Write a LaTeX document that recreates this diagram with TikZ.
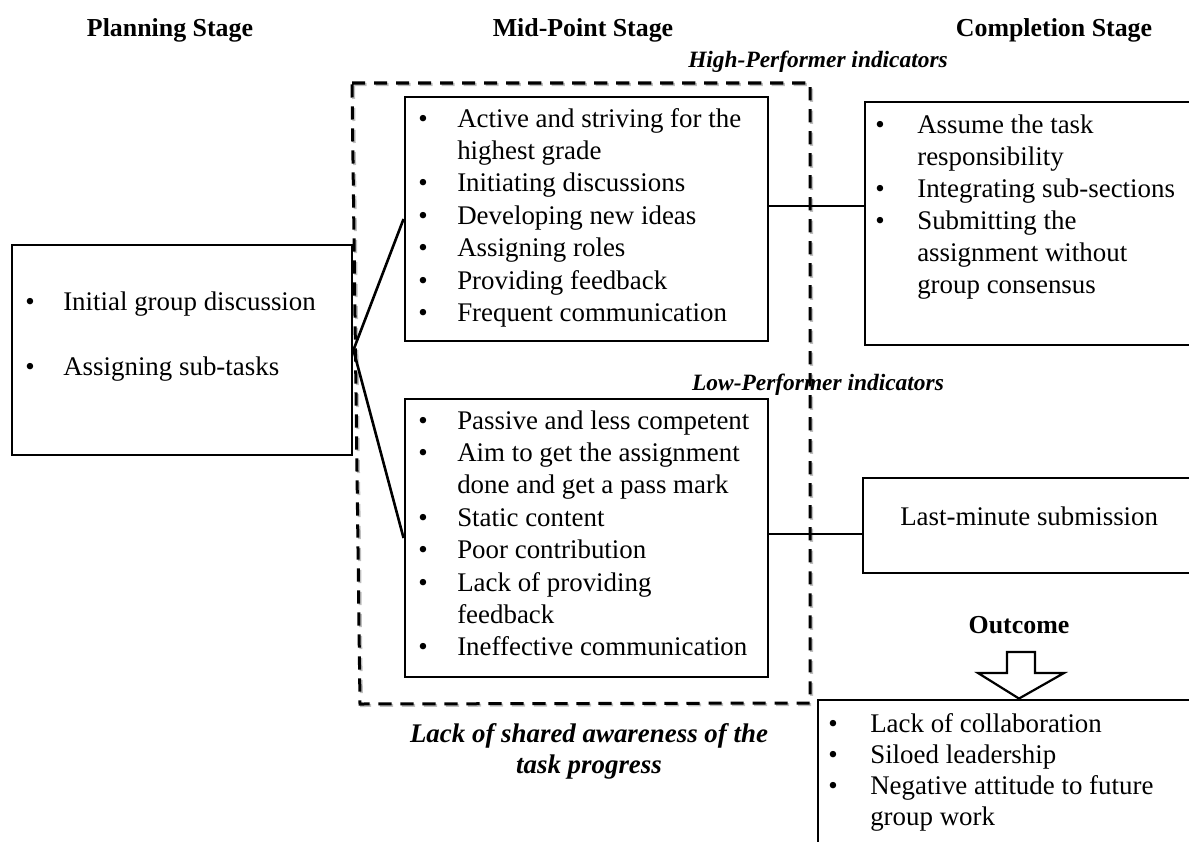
\documentclass[tikz,border=0pt]{standalone}
\usepackage{fontspec}
\setmainfont{Liberation Serif}
\usetikzlibrary{calc,fit}

\newcommand\bodysize{\fontsize{19.13pt}{22.96pt}\selectfont}
\newcommand\headsize{\fontsize{18.4pt}{22pt}\selectfont}
\newcommand\labelsize{\fontsize{16.65pt}{20pt}\selectfont}

\begin{document}
\begin{tikzpicture}[x=0.025cm,y=-0.025cm,
  box/.style={draw, line width=0.072cm, inner sep=0pt},
  link/.style={line width=0.065cm},
  line/.style={anchor=base west, inner sep=0pt, font=\bodysize},
  dot/.style={anchor=base, inner sep=0pt, font=\bodysize},
  stage/.style={anchor=base, inner sep=0pt, font=\headsize\bfseries},
  indic/.style={anchor=base, inner sep=0pt, font=\labelsize\bfseries\itshape},
  aware/.style={anchor=base, inner sep=0pt, font=\bodysize\bfseries\itshape},
  groupline/.style={line width=0.075cm, dash pattern=on 0.33cm off 0.22cm}]

\useasboundingbox (0,0) rectangle (1189,841);
\clip (0,0) rectangle (1189,841);

% stage headings
\node[stage] (h-plan) at (170,37) {Planning Stage};
\node[stage] (h-mid)  at (583,37) {Mid-Point Stage};
\node[stage] (h-comp) at (1054,37) {Completion Stage};

% dashed frame around the mid-point indicators (with a soft shadow)
\draw[groupline, black!25, shift={(1.5,1.5)}]
  (352,83) -- (810,83) -- (810,703) -- (360,704) -- cycle;
\draw[groupline]
  (352,83) -- (810,83) -- (810,703) -- (360,704) -- cycle;

% boxes
\node[box, fit={(12,245) (352,455)}] (plan) {};
\node[box, fit={(405,97) (768,341)}] (hi) {};
\node[box, fit={(405,399) (768,677)}] (lo) {};
\node[box, fit={(865,102) (1230,345)}] (comp) {};
\node[box, fit={(863,478) (1230,573)}] (lm) {};
\node[box, fit={(818,700) (1230,900)}] (out) {};

% labels
\node[indic] (l-hi) at (818,68) {High-Performer indicators};
\node[indic] (l-lo) at (818,390) {Low-Performer indicators};
\node[aware] (l-aware1) at (589,742) {Lack of shared awareness of the};
\node[aware] (l-aware2) at (589,773) {task progress};
\node[stage] (l-out) at (1019,633) {Outcome};

% planning stage items
\node[dot] (p-b1) at (30,310) {•};
\node[line] (p-t1) at (63,310) {Initial group discussion};
\node[dot] (p-b2) at (30,375) {•};
\node[line] (p-t2) at (63,375) {Assigning sub-tasks};

% high-performer items
\foreach \b/\t [count=\i] in {1/Active and striving for the, 0/highest grade,
    1/Initiating discussions, 1/Developing new ideas, 1/Assigning roles,
    1/Providing feedback, 1/Frequent communication} {
  \node[line] (hi-t\i) at (457,{127+32.4*(\i-1)}) {\t};
  \ifnum\b=1 \node[dot] (hi-b\i) at (423,{127+32.4*(\i-1)}) {•};\fi
}

% low-performer items
\foreach \b/\t [count=\i] in {1/Passive and less competent, 1/Aim to get the assignment,
    0/done and get a pass mark, 1/Static content, 1/Poor contribution,
    1/Lack of providing, 0/feedback, 1/Ineffective communication} {
  \node[line] (lo-t\i) at (457,{429+32.4*(\i-1)}) {\t};
  \ifnum\b=1 \node[dot] (lo-b\i) at (423,{429+32.4*(\i-1)}) {•};\fi
}

% completion stage items
\foreach \b/\t [count=\i] in {1/Assume the task, 0/responsibility,
    1/Integrating sub-sections, 1/Submitting the, 0/assignment without,
    0/group consensus} {
  \node[line] (c-t\i) at (917,{133+32*(\i-1)}) {\t};
  \ifnum\b=1 \node[dot] (c-b\i) at (880,{133+32*(\i-1)}) {•};\fi
}
\node[line] (lm-t) at (900,525) {Last-minute submission};

% outcome items
\foreach \b/\t [count=\i] in {1/Lack of collaboration, 1/Siloed leadership,
    1/Negative attitude to future, 0/group work} {
  \node[line] (o-t\i) at (870,{732+31*(\i-1)}) {\t};
  \ifnum\b=1 \node[dot] (o-b\i) at (833,{732+31*(\i-1)}) {•};\fi
}

% connectors
\draw[link] (plan.east) -- (hi.west);
\draw[link] (plan.east) -- (lo.west);
\draw[link] ([yshift=0.325cm]hi.east) coordinate (hc) -- (hc -| comp.west);
\draw[link] ([yshift=0.1cm]lo.east) coordinate (lc) -- (lc -| lm.west);

% hollow arrow from the outcome label down to the outcome box
\draw[line width=0.055cm, fill=white]
  (1007,652) -- (1035,652) -- (1035,673) -- (1064,673) -- (out.north -| l-out.south)
  -- (978,673) -- (1007,673) -- cycle;

\end{tikzpicture}
\end{document}
